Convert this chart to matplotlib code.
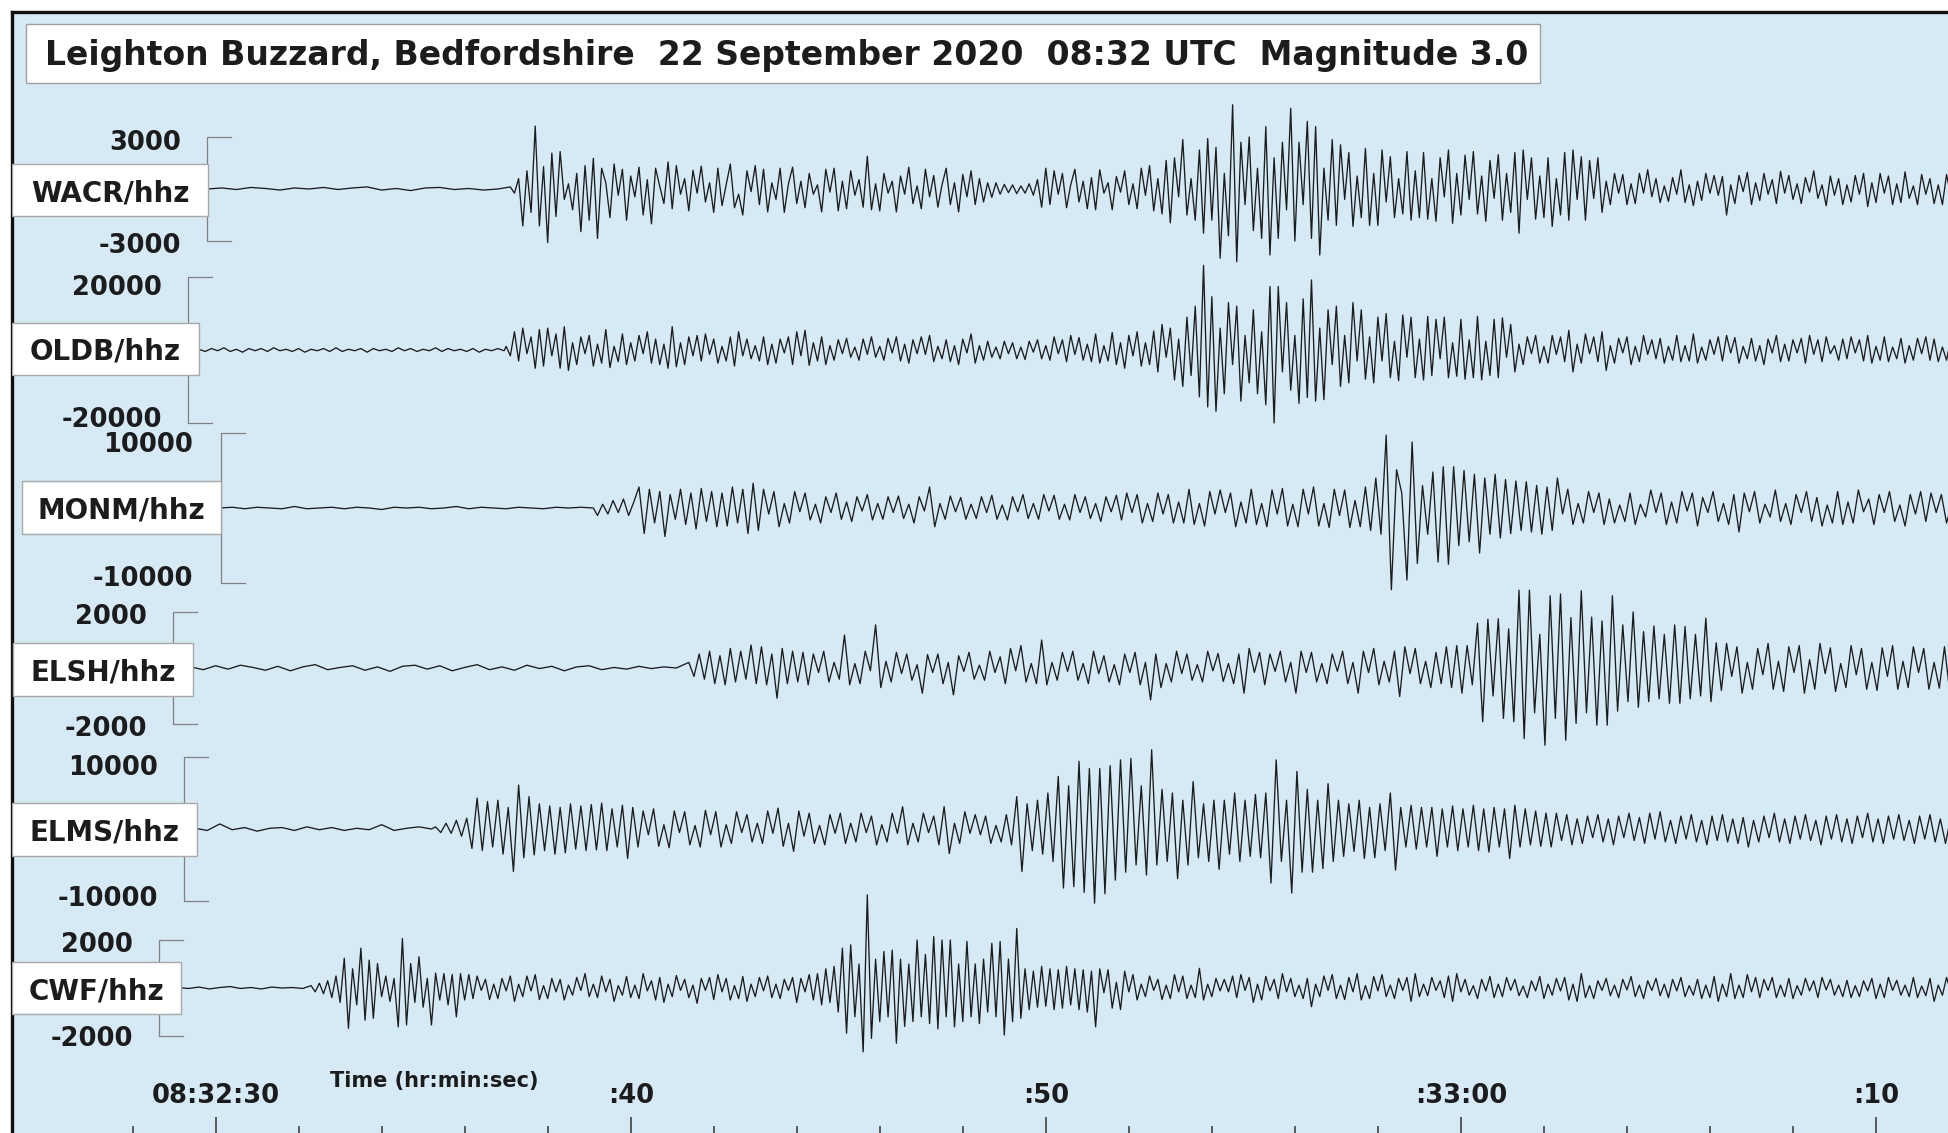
import matplotlib.pyplot as plt
import numpy as np
from matplotlib.patches import Rectangle

# Peak amplitudes per station in % of that station's scale bar
# (+100 = top tick of the bracket). Times are seconds after 08:32:00.

stations = ['WACR/hhz', 'OLDB/hhz', 'MONM/hhz', 'ELSH/hhz', 'ELMS/hhz', 'CWF/hhz']
scale_counts = [3000, 20000, 10000, 2000, 10000, 2000]

noise_start = [29.8, 29.6, 30.1, 29.4, 29.5, 29.1]
noise_step = [0.35, 0.15, 0.3, 0.3, 0.3, 0.25]
onset = [37.1, 37.0, 39.2, 41.4, 35.3, 32.3]
peak_step = [0.1, 0.1, 0.125, 0.125, 0.125, 0.1]

wacr_noise = [0, 2, -1, 3, 1, -2, 2, 0, 3, -1, 2, 4, -2, 1, -3, 2, 3, -1, 1, -2, 0]
wacr = [
    4, -8, 20, -71, 35, -45, 121, -71, 43, -103,
    69, -53, 72, -20, 10, -40, 30, -82, 45, -60,
    59, -95, 40, 12, -55, 48, -12, 38, -60, 25,
    -15, 42, -50, 18, -67, 40, 5, -28, 52, -38,
    45, -10, 20, -42, 36, -8, 44, -25, 12, -45,
    40, -32, 8, 48, -36, -10, -50, 35, -5, 45,
    -30, 38, -44, 12, -20, 40, -45, 10, 42, -28,
    15, -36, 30, -10, 8, -44, 38, -6, 40, -42,
    15, -38, 35, -12, 18, -35, 63, -40, 10, -42,
    30, -8, 15, -44, 25, -10, 42, -28, 6, -38,
    38, -15, 26, -35, 8, 40, -30, 12, -44, 28,
    -15, 35, -30, 20, -25, 12, -16, 12, -10, 9,
    -7, 8, -9, 6, -8, 10, -12, 18, -35, 40,
    -30, 35, -10, 30, -36, 8, 38, -25, 15, -38,
    22, -40, 37, -8, 12, -40, 24, -6, 35, -30,
    10, -38, 40, -12, 45, -42, 20, -48, 55, -65,
    60, -15, 95, -50, 20, -60, 75, -85, 97, -60,
    80, -133, 30, -90, 162, -140, 90, -30, 100, -80,
    40, -95, 120, -127, 60, -95, 90, -40, 155, -100,
    90, -30, 130, -95, 120, -127, 40, -60, 95, -70,
    85, -20, 70, -72, 25, -55, 78, -70, 30, -70,
    75, -25, 62, -55, 20, -48, 72, -60, 35, -55,
    70, -58, 20, -62, 60, -15, 75, -66, 30, -50,
    65, -20, 72, -48, 25, -62, 55, -18, 66, -60,
    30, -45, 70, -85, 75, -20, 60, -58, 25, -55,
    60, -72, 20, -50, 70, -60, 75, -20, 62, -60,
    55, -18, 60, -45, 15, -30, 30, -8, 28, -30,
    10, -28, 30, -8, 37, -15, 20, -26, 6, -24,
    22, -10, 37, -26, 8, -32, 15, -22, 30, -8,
    26, -12, 24, -50, 8, -28, 26, -5, 32, -30,
    12, -22, 30, -10, 18, -28, 34, -8, 26, -20,
    10, -28, 22, -6, 35, -18, 8, -32, 25, -12,
    20, -30, 8, -25, 26, -10, 30, -34, 12, -26,
    30, -8, 25, -30, 10, -26, 33, -18, 6, -30,
    28, -10, 20, -28, 8, -30, 28, -12, 30, -22,
]

oldb_noise = [1, -2, 2, -1, 3, -2, 1, -3, 2, -1, 2, -2, 3, -1, 1, -2, 2, -3, 1, -1,
              2, -2, 3, -2, 1, -1, 2, -3, 2, -1, 1, -2, 3, -1, 2, -2, 1, -1, 3, -2,
              2, -1, 1, -2, 2, -3, 1, -1, 2, -1]
oldb = [
    5, -8, 25, -15, 30, -5, 18, -25, 28, -22,
    30, -8, 22, -25, 32, -28, 10, -20, 18, -5,
    20, -22, 8, -18, 28, -24, 5, -16, 22, -20,
    10, -15, 20, -5, 25, -18, 15, -20, 8, -25,
    32, -23, 10, -20, 18, -8, 20, -15, 22, -6,
    15, -18, 5, -15, 18, -22, 25, -8, 15, -12,
    6, -15, 18, -20, 8, -18, 15, -4, 18, -20,
    25, -8, 27, -21, 10, -15, 18, -20, 6, -14,
    14, -5, 16, -10, 4, -14, 15, -6, 18, -10,
    5, -14, 16, -4, 18, -15, 8, -18, 14, -5,
    18, -6, 20, -16, 5, -12, 14, -16, 6, -20,
    15, -4, 22, -18, 6, -14, 12, -10, 4, -12,
    12, -5, 10, -12, 4, -13, 12, -3, 14, -12,
    6, -14, 18, -5, 14, -16, 20, -6, 17, -14,
    8, -16, 22, -18, 6, -15, 24, -20, 10, -25,
    20, -8, 25, -22, 10, -20, 26, -30, 35, -10,
    30, -41, 15, -50, 45, -35, 60, -64, 116, -78,
    73, -84, 30, -60, 65, -20, 60, -70, 20, -45,
    55, -60, 25, -75, 87, -100, 87, -30, 65, -55,
    20, -73, 70, -65, 96, -70, 30, -68, 55, -20,
    60, -50, 20, -45, 65, -15, 55, -40, 18, -45,
    45, -15, 50, -38, 12, -42, 48, -10, 45, -38,
    15, -41, 46, -35, 42, -12, 45, -38, 10, -36,
    42, -40, 14, -38, 46, -41, 12, -35, 42, -38,
    44, -10, 35, -30, 8, -20, 18, -5, 20, -18,
    5, -18, 20, -6, 18, -16, 27, -30, 8, -18,
    22, -5, 18, -16, 25, -28, 6, -18, 16, -4,
    18, -20, 5, -16, 20, -6, 14, -12, 16, -18,
    5, -14, 20, -16, 6, -15, 22, -18, 4, -14,
    14, -6, 18, -15, 20, -4, 17, -18, 5, -12,
    16, -15, 6, -20, 15, -4, 20, -16, 8, -15,
    14, -4, 16, -18, 20, -6, 14, -16, 18, -5,
    6, -14, 15, -12, 18, -4, 14, -15, 20, -18,
    5, -14, 18, -16, 4, -12, 16, -18, 6, -14,
    16, -5, 18, -14, 15, -16, 4, -14, 15, -12,
]

monm_noise = [0, 1, -1, 1, 0, -1, 2, -1, 0, 1, -1, 1, 0, -2, 1, 0, 1, -1, 0, 2,
              -1, 1, 0, -1, 1, 0, -1, 1, 0, 1, 0]
monm = [
    -10, 5, -8, 10, -6, 12, -10, 8,
    28, -34, 25, -20, 22, -38, 18, -15,
    25, -22, 20, -28, 26, -18, 22, -25,
    20, -24, 28, -20, 25, -34, 33, -30,
    25, -8, 22, -25, 6, -20, 22, -5,
    20, -16, 5, -20, 15, -6, 20, -15,
    8, -18, 15, -4, 18, -16, 6, -15,
    15, -6, 16, -14, 5, -20, 15, -4,
    28, -25, 6, -15, 16, -5, 14, -15,
    5, -14, 15, -6, 17, -15, 4, -16,
    15, -5, 18, -14, 6, -15, 18, -4,
    17, -15, 5, -16, 18, -6, 15, -14,
    6, -18, 15, -5, 17, -16, 20, -6,
    18, -20, 6, -18, 20, -8, 18, -20,
    8, -20, 25, -22, 6, -24, 22, -8,
    24, -6, 20, -25, 8, -20, 25, -22,
    6, -25, 24, -8, 26, -24, 5, -25,
    25, -8, 28, -24, 6, -26, 25, -10,
    24, -26, 10, -25, 28, -30, 40, -35,
    97, -109, 51, 20, -96, 88, -74, 30,
    -35, 48, -72, 55, -75, 55, -50, 50,
    -45, 45, -60, 40, -35, 45, -40, 38,
    -34, 36, -30, 35, -32, 30, -35, 28,
    -30, 40, -8, 25, -22, 6, -20, 22,
    -6, 20, -22, 12, -20, 4, -18, 20,
    -22, 5, -12, 24, -6, 20, -22, 8,
    -20, 22, -4, 20, -24, 14, -6, 22,
    -18, 6, -22, 18, -32, 20, -5, 22,
    -20, 5, -12, 24, -18, 6, -22, 18,
    -6, 22, -18, 14, -24, 4, -20, 22,
    -22, 8, -20, 24, -5, 12, -22, 18,
    -6, 22, -18, 4, -24, 18, -8, 22,
    -18, 20, -6, 18, -20, 5, -18, 20,
]

elsh_noise = [2, -3, 4, -2, 5, 1, -4, 3, -5, 2, 6, -3, 1, 4, -4, 2, -6, 3, 5, -2,
              4, -5, 1, 6, -3, 2, -4, 5, -1, 3, -5, 2, 4, -3, 1, -2, 3, -1, 2, 0]
elsh = [
    10, -15, 25, -20, 30, -28, 22, -30,
    35, -25, 30, -20, 41, -28, 38, -30,
    25, -54, 35, -28, 30, -25, 28, -30,
    25, -8, 30, -25, 10, -20, 59, -30,
    8, -28, 30, -5, 77, -35, 12, -25,
    28, -10, 25, -22, 6, -45, 24, -8,
    25, -28, 10, -48, 22, -6, 28, -20,
    5, -22, 30, -8, 20, -28, 35, -5,
    40, -25, 8, -28, 50, -30, 10, -22,
    28, -6, 30, -22, 8, -28, 30, -10,
    22, -25, 6, -30, 25, -8, 28, -30,
    10, -57, 25, -35, 8, -25, 30, -10,
    25, -22, 6, -25, 30, -5, 26, -24,
    8, -28, 25, -45, 35, -8, 28, -30,
    25, -6, 30, -25, 10, -45, 30, -8,
    28, -25, 8, -28, 25, -6, 30, -28,
    10, -45, 30, -8, 35, -30, 12, -25,
    30, -51, 38, -10, 35, -28, 12, -35,
    28, -28, 38, -35, 40, -45, 40, -30,
    80, -96, 87, -50, 88, -90, 70, -96,
    139, -126, 139, -80, 60, -138, 129, -90,
    132, -129, 90, -99, 138, -80, 91, -102,
    84, -102, 129, -77, 77, -60, 100, -70,
    65, -60, 75, -55, 60, -63, 77, -63,
    74, -55, 60, -50, 89, -60, 45, -40,
    44, -15, 38, -45, 10, -38, 35, -12,
    44, -38, 12, -42, 38, -8, 40, -45,
    15, -38, 44, -10, 36, -42, 8, -35,
    40, -12, 35, -38, 10, -40, 36, -15,
    40, -38, 12, -35, 38, -8, 35, -38,
    10, -36, 38, -42, 12, -40, 38, -10,
]

elms_noise = [1, -2, 7, -1, 2, -3, 1, 2, -2, 3, -1, 2, -2, 1, -1, 6, -2, 1, 3, 0]
elms = [
    3, -5, 8, -6, 12, -10, 15, -27,
    43, -30, 38, -25, 40, -35, 30, -59,
    61, -40, 45, -36, 35, -30, 32, -35,
    30, -33, 35, -28, 32, -30, 34, -29,
    36, -30, 28, -25, 33, -41, 30, -25,
    25, -8, 28, -24, 6, -26, 25, -5,
    24, -22, 5, -25, 26, -8, 24, -25,
    6, -20, 24, -5, 20, -18, 8, -20,
    25, -6, 29, -24, 8, -31, 25, -10,
    22, -20, 5, -22, 20, -6, 22, -20,
    8, -18, 22, -5, 18, -22, 6, -18,
    22, -6, 31, -22, 8, -18, 22, -5,
    18, -22, 31, -34, 8, -20, 24, -6,
    20, -8, 18, -20, 5, -18, 20, -22,
    45, -59, 35, -30, 40, -35, 50, -45,
    73, -82, 60, -80, 94, -88, 84, -103,
    84, -90, 88, -71, 96, -60, 98, -50,
    60, -64, 110, -50, 55, -45, 50, -69,
    40, -50, 66, -40, 35, -45, 40, -56,
    40, -35, 50, -45, 40, -38, 48, -40,
    50, -75, 96, -45, 40, -89, 80, -60,
    55, -60, 40, -55, 63, -45, 40, -38,
    35, -31, 40, -41, 30, -40, 35, -30,
    50, -57, 30, -25, 33, -28, 30, -25,
    30, -38, 28, -25, 32, -30, 28, -25,
    33, -30, 28, -32, 30, -25, 28, -41,
    33, -25, 28, -22, 25, -24, 22, -25,
    22, -16, 20, -22, 14, -20, 18, -12,
    20, -18, 14, -22, 18, -12, 22, -16,
    16, -20, 22, -14, 24, -18, 12, -20,
    18, -14, 20, -18, 12, -22, 18, -16,
    20, -18, 14, -20, 16, -25, 12, -18,
    18, -12, 22, -18, 14, -20, 18, -14,
    20, -16, 12, -22, 18, -14, 20, -18,
    14, -20, 18, -12, 22, -18, 14, -20,
    18, -14, 20, -16, 12, -20, 18, -14,
    20, -18, 14, -20, 16, -12, 20, -16,
]

cwf_noise = [1, -1, 2, -2, 1, 3, -1, 1, -2, 2, 0, 1, -1]
cwf = [
    5, -8, 10, -12, 15, -20, 25, -30, 62, -84,
    40, -35, 83, -67, 58, -63, 51, -18, 25, -28,
    20, -81, 103, -77, 51, -30, 65, -40, 20, -77,
    31, -25, 30, -35, 28, -60, 30, -25, 28, -22,
    25, -5, 18, -24, 8, -22, 20, -6, 25, -28,
    8, -18, 25, -6, 28, -24, 5, -22, 20, -8,
    18, -25, 6, -15, 22, -5, 30, -18, 8, -20,
    25, -8, 18, -28, 5, -15, 24, -20, 6, -22,
    30, -6, 15, -25, 22, -30, 8, -18, 26, -5,
    18, -20, 6, -32, 20, -5, 22, -24, 28, -8,
    20, -25, 5, -22, 24, -28, 8, -18, 22, -6,
    25, -20, 8, -22, 18, -5, 22, -30, 20, -8,
    28, -25, 30, -35, 40, -30, 45, -50, 83, -94,
    90, -60, 50, -133, 194, -105, 60, -70, 76, -60,
    79, -115, 60, -80, 50, -70, 100, -60, 70, -74,
    107, -85, 100, -60, 100, -81, 50, -70, 97, -60,
    50, -74, 60, -50, 93, -60, 97, -98, 60, -70,
    124, -63, 40, -45, 35, -40, 45, -38, 40, -45,
    38, -42, 45, -35, 40, -45, 38, -50, 35, -81,
    40, -10, 38, -42, 12, -45, 35, -8, 28, -25,
    8, -18, 25, -5, 18, -24, 6, -22, 28, -8,
    25, -22, 6, -20, 41, -25, 8, -18, 20, -6,
    18, -8, 25, -20, 28, -5, 22, -30, 8, -25,
    24, -6, 18, -22, 30, -8, 20, -18, 6, -22,
    20, -39, 8, -18, 25, -5, 28, -22, 6, -24,
    22, -8, 30, -25, 5, -22, 24, -6, 28, -18,
    6, -22, 20, -5, 22, -28, 30, -18, 8, -16,
    22, -5, 15, -20, 25, -28, 30, -8, 18, -15,
    5, -22, 18, -6, 24, -20, 8, -18, 22, -5,
    18, -16, 4, -20, 15, -6, 24, -22, 8, -15,
    20, -6, 22, -25, 8, -28, 30, -20, 5, -22,
    15, -5, 20, -16, 6, -20, 18, -4, 24, -18,
    6, -22, 15, -5, 20, -16, 8, -20, 18, -6,
    22, -18, 5, -15, 18, -22, 6, -20, 24, -28,
    8, -18, 30, -22, 6, -20, 28, -8, 22, -20,
    18, -5, 22, -20, 6, -18, 20, -22, 5, -15,
    20, -6, 15, -20, 22, -4, 18, -15, 6, -18,
    16, -20, 5, -18, 15, -6, 20, -22, 8, -20,
    22, -5, 16, -15, 6, -18, 22, -20, 4, -16,
    20, -28, 6, -15, 22, -8, 20, -16, 5, -18,
]

noise_vals = [wacr_noise, oldb_noise, monm_noise, elsh_noise, elms_noise, cwf_noise]
peak_vals = [wacr, oldb, monm, elsh, elms, cwf]

major_t = [30, 40, 50, 60, 70]
major_labels = ['08:32:30', ':40', ':50', ':33:00', ':10']
minor_t = [t for t in range(28, 72, 2) if t not in major_t]

# ---- page layout (pixels from the top-left of the page) ----------------
W, H = 1948, 1133
frame = 12
x30, px_per_s = 215.6, 41.51

base_y = [189, 350, 508, 668, 829, 988]
half_h = [52, 73, 75, 56, 72, 48]
bracket_x = [207, 188, 221, 173, 184, 159]
box_x = [(12, 208), (12, 199), (22, 221), (13, 193), (12, 197), (12, 181)]
box_y = [(164, 216), (323, 375), (481, 534), (643, 696), (803, 856), (962, 1014)]
num_right = [181, 162, 193, 147, 158, 133]
num_y = [(141, 244), (286, 418), (443, 577), (615, 727), (766, 897), (943, 1037)]

bg = '#d6eaf6'
ink = '#1c1c1c'


def px2t(px):
    return 30 + (px - x30) / px_per_s


fig = plt.figure(figsize=(W / 100, H / 100), dpi=100, facecolor='white')
ax = fig.add_axes([frame / W, 0, (W - frame) / W, (H - frame) / H])
ax.set_xlim(px2t(frame), px2t(W))
ax.set_ylim(H, frame)
ax.set_facecolor(bg)
for side in ['right', 'bottom']:
    ax.spines[side].set_visible(False)
for side in ['left', 'top']:
    ax.spines[side].set_linewidth(2.4)
    ax.spines[side].set_color('#111111')

ax.set_yticks([])
ax.set_xticks(major_t)
ax.set_xticks(minor_t, minor=True)
ax.tick_params(axis='x', which='both', direction='in', labelbottom=False,
               color='#333333', width=1.1)
ax.tick_params(axis='x', which='major', length=11.5)
ax.tick_params(axis='x', which='minor', length=5)

for t, lbl in zip(major_t, major_labels):
    ax.text(t, 1103, lbl, ha='center', va='baseline', fontsize=18.5,
            fontweight='bold', color=ink, zorder=6)
ax.text(px2t(330), 1087, 'Time (hr:min:sec)', ha='left', va='baseline',
        fontsize=15, fontweight='bold', color=ink, zorder=6)

# title box
ax.add_patch(Rectangle((px2t(26), 24), px2t(1540) - px2t(26), 59,
                       facecolor='white', edgecolor='#a0a0a0', lw=1, zorder=4))
ax.text(px2t(45), 65,
        'Leighton Buzzard, Bedfordshire  22 September 2020  08:32 UTC  Magnitude 3.0',
        ha='left', va='baseline', fontsize=23.8, fontweight='bold', color=ink, zorder=5)

for i, name in enumerate(stations):
    noise = np.asarray(noise_vals[i], float)
    peaks = np.asarray(peak_vals[i], float)
    t_noise = noise_start[i] + noise_step[i] * np.arange(len(noise))
    keep = t_noise < onset[i]
    t_peaks = onset[i] + peak_step[i] * np.arange(len(peaks))
    t = np.concatenate([t_noise[keep], t_peaks])
    counts = np.concatenate([noise[keep], peaks]) / 100 * scale_counts[i]
    y = base_y[i] - counts * half_h[i] / scale_counts[i]
    ax.plot(t, y, color=ink, lw=0.95, zorder=2)

    # amplitude scale bracket
    top, bot = base_y[i] - half_h[i], base_y[i] + half_h[i]
    bx, tick_end = px2t(bracket_x[i]), px2t(bracket_x[i] + 24)
    ax.plot([tick_end, bx, bx, tick_end], [top, top, bot, bot],
            color='#808080', lw=0.9, zorder=3)
    ax.text(px2t(num_right[i]), num_y[i][0] + 9, str(scale_counts[i]), ha='right',
            va='baseline', fontsize=18.5, fontweight='bold', color=ink, zorder=5)
    ax.text(px2t(num_right[i]), num_y[i][1] + 9, str(-scale_counts[i]), ha='right',
            va='baseline', fontsize=18.5, fontweight='bold', color=ink, zorder=5)

    # station label box
    x0, x1 = box_x[i]
    y0, y1 = box_y[i]
    ax.add_patch(Rectangle((px2t(x0), y0), px2t(x1) - px2t(x0), y1 - y0,
                           facecolor='white', edgecolor='#a8a8a8', lw=1, zorder=4))
    ax.text(px2t((x0 + x1) / 2), (y0 + y1) / 2 + 11, name, ha='center',
            va='baseline', fontsize=20, fontweight='bold', color=ink, zorder=5)

fig.savefig('out.png', dpi=100)
